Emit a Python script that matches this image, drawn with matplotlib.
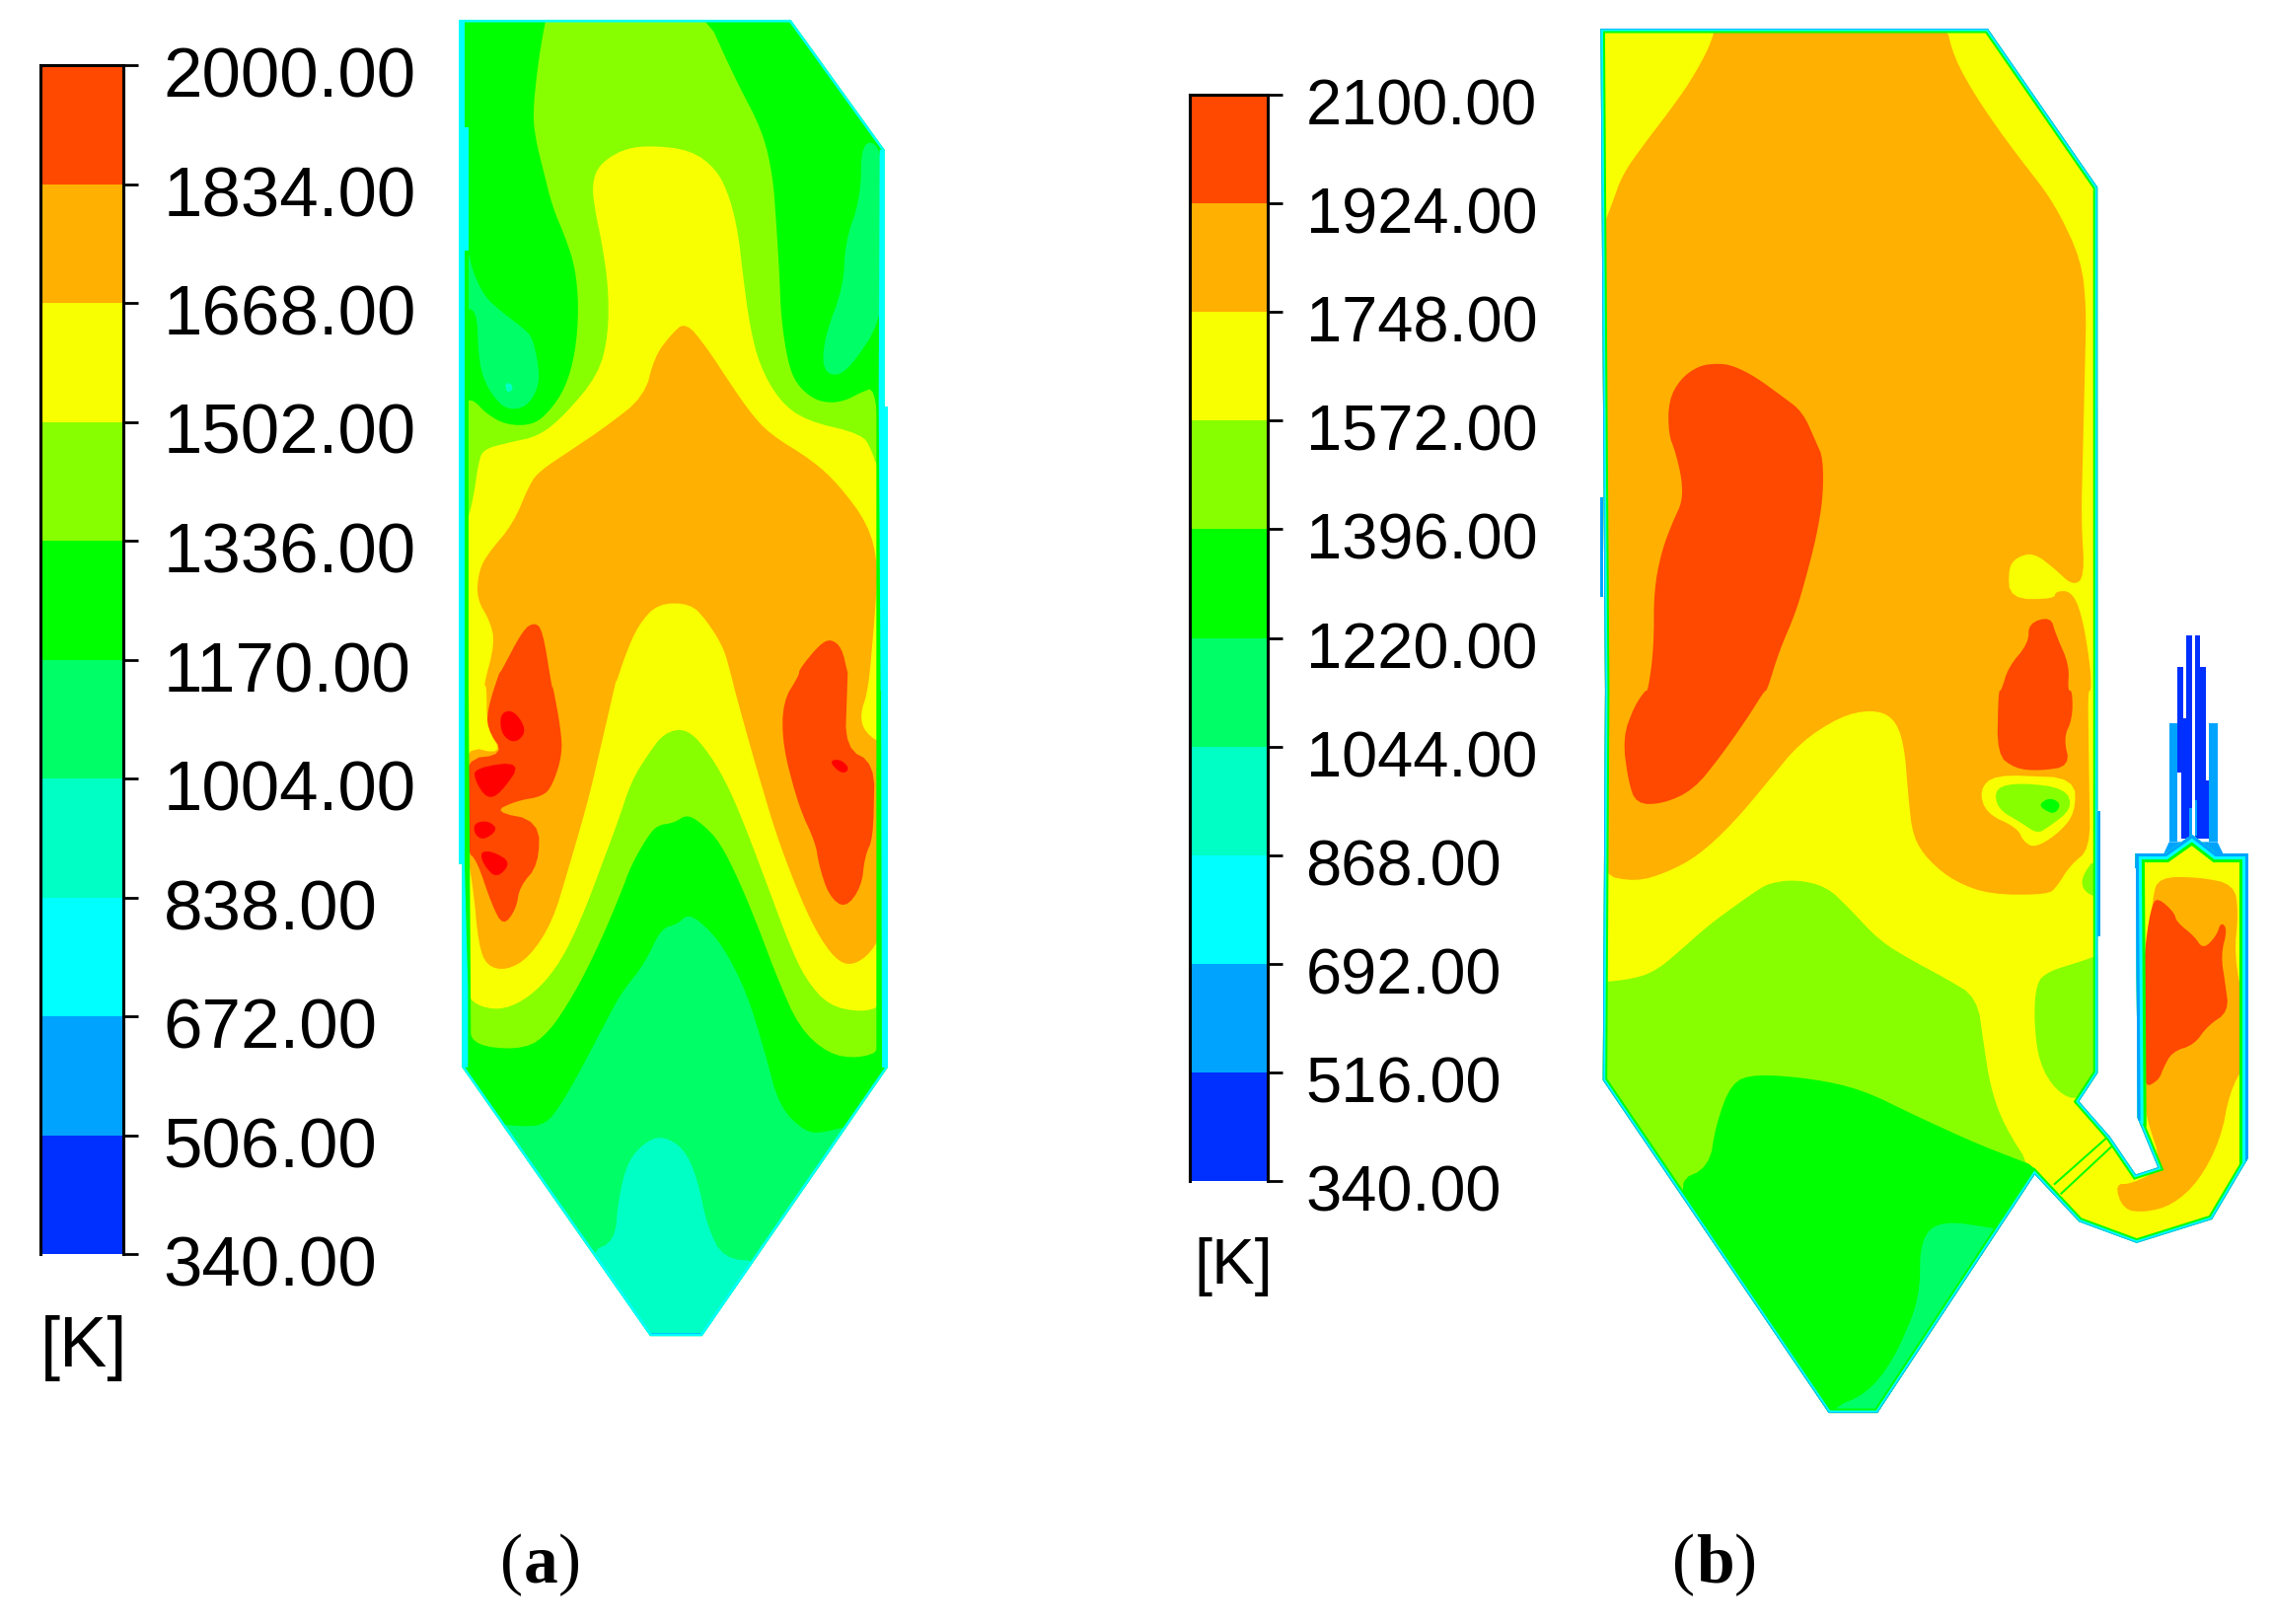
import math

import matplotlib
matplotlib.use("Agg")
import matplotlib.pyplot as plt
from matplotlib.transforms import ScaledTranslation

WIDTH, HEIGHT = 2304, 1646

LEVELS_A = [340, 506, 672, 838, 1004, 1170, 1336, 1502, 1668, 1834, 2000]
LEVELS_B = [340, 516, 692, 868, 1044, 1220, 1396, 1572, 1748, 1924, 2100]
LABELS_A = ["340.00", "506.00", "672.00", "838.00", "1004.00", "1170.00",
            "1336.00", "1502.00", "1668.00", "1834.00", "2000.00"]
LABELS_B = ["340.00", "516.00", "692.00", "868.00", "1044.00", "1220.00",
            "1396.00", "1572.00", "1748.00", "1924.00", "2100.00"]

BLUE = "#0030ff"
SKY = "#00a4ff"
CYAN = "#00ffff"
TEAL = "#00ffc4"
SPRING = "#00ff66"
GREEN = "#00ff00"
LIME = "#88ff00"
YELLOW = "#f8ff00"
ORANGE = "#ffb000"
RED_ORANGE = "#ff4800"
RED = "#ff0000"
BAND_COLORS = [BLUE, SKY, CYAN, TEAL, SPRING, GREEN, LIME, YELLOW, ORANGE, RED_ORANGE]


# outlines below were traced on enlarged crops, so each list is in crop units
def crop(points, x0, y0, sx, sy):
    return [(x0 + u / sx, y0 + v / sy) for u, v in points]


def a_up(points):
    return crop(points, 440, 0, 3, 2.24)


def a_lo(points):
    return crop(points, 440, 680, 3, 2.24)


def b_up(points):
    return crop(points, 1600, 0, 2.904, 2.24)


def b_lo(points):
    return crop(points, 1600, 700, 2.227, 2.09)


def tube(points):
    return crop(points, 2140, 620, 3, 3)


def box(u0, u1, v0, v1):
    return [(u0, v0), (u1, v0), (u1, v1), (u0, v1)]


# panel (a)
A_OUTLINE = a_up([(75, 45), (1085, 45), (1370, 340), (1370, 923), (1380, 923)]) + a_lo(
    [(1380, 900), (815, 1510), (657, 1510), (85, 900), (85, 438), (75, 438)])
A_WALL_GREEN = [
    a_up([(93, 45), (105, 45), (105, 1568)]) + a_lo([(112, 830), (93, 830)]),
    a_up([(1345, 740), (1362, 820), (1362, 1568)]) + a_lo([(1362, 880), (1345, 880)]),
]
A_WALL_CYAN = [
    a_up([(75, 45), (93, 45), (93, 290), (105, 290), (105, 570), (93, 570), (93, 1568), (75, 1568)]),
    a_lo([(75, 0), (93, 0), (93, 438), (103, 720), (103, 900), (85, 900), (85, 438), (75, 438)]),
    a_up([(1355, 340), (1370, 340), (1370, 923), (1380, 923), (1380, 1568), (1358, 1568), (1352, 923)]),
    a_lo([(1358, 0), (1380, 0), (1380, 900), (1362, 900)]),
]
A_SPRING = [
    a_up([(1300, 320), (1360, 330), (1360, 730), (1260, 840), (1210, 855), (1180, 830), (1190, 760),
          (1245, 650), (1250, 550), (1297, 450)]),
    a_up([(80, 570), (105, 570), (115, 610), (150, 670), (200, 705), (280, 750), (300, 770), (318, 830),
          (318, 880), (280, 925), (220, 930), (180, 900), (150, 860), (135, 810), (130, 700), (80, 705)]),
    a_lo([(150, 1025), (270, 1035), (340, 1030), (390, 980), (450, 900), (520, 800), (570, 730), (640, 665),
          (690, 585), (740, 575), (775, 550), (840, 590), (890, 640), (950, 730), (1000, 850), (1050, 990),
          (1130, 1048), (1190, 1048), (1320, 1020), (860, 1570), (620, 1570)]),
]
A_TEAL = [
    a_up([(215, 870), (235, 870), (240, 885), (222, 892)]),
    a_lo([(470, 1320), (550, 1295), (560, 1200), (590, 1110), (650, 1065), (700, 1057), (760, 1085), (800, 1150),
          (830, 1260), (880, 1335), (1000, 1340), (860, 1570), (620, 1570)]),
]
A_SKY = [a_lo([(657, 1503), (815, 1503), (815, 1510), (657, 1510)])]
A_LIME = [
    a_up([(345, 30), (825, 30), (910, 170), (1000, 300), (1030, 400), (1040, 500), (1050, 620), (1055, 720),
          (1075, 820), (1100, 870), (1150, 905), (1200, 915), (1250, 910), (1300, 890), (1340, 880), (1365, 1100)])
    + a_lo([(1365, 860), (1290, 880), (1200, 870), (1110, 810), (1040, 690), (990, 590), (930, 480), (870, 390),
            (820, 350), (770, 325), (730, 345), (680, 350), (650, 375), (600, 440), (570, 500), (520, 590),
            (470, 670), (420, 740), (350, 820), (280, 858), (150, 855), (100, 825)])
    + a_up([(95, 910), (120, 908), (160, 940), (220, 965), (300, 965), (350, 935), (400, 880), (430, 800),
            (440, 700), (430, 610), (400, 540), (360, 470), (330, 380), (310, 320), (300, 260), (315, 150),
            (335, 60)]),
]
A_YELLOW = [
    a_up([(480, 420), (500, 375), (570, 340), (650, 330), (780, 340), (860, 385), (900, 450), (925, 530),
          (940, 630), (960, 740), (990, 830), (1050, 910), (1130, 955), (1300, 985), (1330, 1020), (1365, 1100)])
    + a_lo([(1365, 760), (1300, 775), (1200, 760), (1130, 700), (1080, 620), (1020, 500), (960, 380), (900, 270),
            (840, 190), (770, 130), (700, 140), (650, 190), (600, 250), (560, 340), (510, 440), (460, 540),
            (400, 640), (340, 705), (270, 750), (200, 770), (130, 760), (95, 730)])
    + a_up([(95, 1200), (120, 1130), (135, 1050), (150, 1020), (225, 1005), (320, 990), (400, 940), (500, 850),
            (530, 760), (530, 650), (510, 550), (490, 480)]),
]
A_ORANGE = [
    a_up([(765, 730), (830, 790), (900, 870), (960, 935), (1020, 985), (1150, 1045), (1230, 1100), (1320, 1190),
          (1350, 1280), (1340, 1400), (1320, 1568)])
    + a_lo([(1295, 100), (1310, 140), (1370, 170), (1370, 580), (1330, 640), (1270, 670), (1220, 655), (1160, 590),
            (1100, 490), (1040, 370), (980, 220), (920, 60), (900, 0)])
    + a_up([(880, 1470), (830, 1410), (780, 1370), (680, 1370), (620, 1420), (580, 1490), (550, 1560)])
    + a_lo([(560, 0), (520, 130), (470, 290), (420, 420), (360, 570), (290, 650), (220, 680), (160, 670),
            (135, 620), (120, 500), (100, 410), (90, 170), (210, 190), (160, 130), (160, 30)])
    + a_up([(150, 1560), (185, 1460), (170, 1410), (130, 1360), (135, 1300), (160, 1260), (240, 1190), (290, 1100),
            (320, 1070), (410, 1025), (520, 970), (640, 900), (670, 810), (720, 760)]),
]
A_RED_ORANGE = [
    a_up([(305, 1413), (330, 1430), (360, 1568)])
    + a_lo([(360, 30), (385, 130), (390, 190), (360, 260), (330, 285), (250, 295), (180, 320), (320, 340),
            (318, 440), (260, 490), (250, 540), (210, 580), (175, 530), (130, 430), (100, 410), (90, 200),
            (215, 190), (160, 130), (165, 80), (200, 0)])
    + a_up([(200, 1530), (270, 1430)]),
    a_up([(1205, 1450), (1240, 1470), (1258, 1530)])
    + a_lo([(1258, 0), (1250, 175), (1340, 210), (1335, 380), (1310, 420), (1300, 490), (1250, 540), (1200, 510),
            (1170, 440), (1160, 390), (1110, 310), (1060, 170), (1060, 70), (1110, 10)])
    + a_up([(1110, 1520), (1170, 1465)]),
]
A_RED = [
    a_lo([(200, 100), (230, 88), (260, 105), (280, 140), (245, 165), (205, 145)]),
    a_lo([(122, 220), (270, 205), (200, 280), (160, 290), (125, 250)]),
    a_lo([(122, 345), (165, 340), (195, 360), (150, 385), (122, 370)]),
    a_lo([(140, 410), (180, 410), (235, 435), (190, 472), (150, 440)]),
    a_lo([(1200, 205), (1235, 200), (1265, 222), (1240, 235)]),
]

# panel (b)
B_OUTLINE = b_up([(65, 65), (1205, 65), (1528, 425)]) + b_lo(
    [(1172, 0), (1172, 810), (1130, 870), (1200, 945), (1258, 1025), (1308, 1010), (1262, 905), (1258, 345),
     (1325, 345), (1385, 305), (1440, 345), (1512, 345), (1512, 990), (1430, 1120), (1260, 1170), (1130, 1125),
     (1030, 1025), (675, 1530), (565, 1530), (55, 825), (60, 0)])
B_CHAMBER_WALL = b_lo([(1262, 905), (1258, 345), (1325, 345), (1385, 305), (1440, 345), (1512, 345), (1512, 990)])
B_WALL_SKY = [
    b_up([(63, 1130), (73, 1130), (73, 1355), (63, 1355)]),
    b_lo([(1172, 255), (1179, 255), (1179, 520), (1172, 520)]),
]
B_LIME = [
    b_lo([(30, 620), (130, 610), (180, 590), (230, 550), (290, 500), (340, 465), (400, 425), (430, 408), (490, 400),
          (560, 415), (610, 460), (680, 530), (750, 570), (830, 610), (900, 650), (915, 750), (930, 840), (960, 920),
          (1028, 1020), (985, 1100), (720, 1580), (520, 1580), (20, 825)]),
    b_lo([(1033, 620), (1060, 595), (1130, 575), (1190, 555), (1190, 810), (1130, 870), (1080, 850), (1040, 790),
          (1028, 700)]),
    b_lo([(1135, 395), (1170, 350), (1175, 440), (1140, 425)]),
]
B_LIME_POCKET = b_lo([(940, 205), (1000, 195), (1100, 207), (1115, 250), (1060, 290), (1035, 303), (1000, 280),
                      (945, 250)])
B_GREEN = [
    b_lo([(220, 1040), (295, 1010), (310, 920), (345, 830), (400, 812), (530, 822), (640, 845), (760, 900), (900, 960),
          (1060, 1018), (720, 1580), (520, 1580)]),
]
B_SPRING = [
    b_lo([(772, 1160), (820, 1122), (980, 1145), (720, 1580), (565, 1580), (570, 1520), (650, 1490), (710, 1420),
          (770, 1290)]),
]
B_ORANGE = [
    b_up([(405, 50), (1080, 50), (1105, 130), (1170, 220), (1260, 320), (1400, 460), (1480, 590), (1495, 700),
          (1480, 1180), (1490, 1310), (1455, 1330), (1400, 1290), (1340, 1255), (1290, 1265), (1265, 1290),
          (1270, 1360), (1400, 1360), (1405, 1342), (1450, 1342), (1480, 1390), (1505, 1500), (1510, 1568)])
    + b_lo([(1150, 0), (1155, 335), (1110, 370), (1080, 415), (1060, 432), (930, 432), (850, 405), (790, 360),
            (755, 310), (745, 230), (735, 110), (710, 55), (660, 40), (590, 55), (500, 110), (430, 190), (350, 280),
            (270, 350), (200, 385), (130, 405), (50, 390), (50, 0)])
    + b_up([(70, 520), (100, 460), (130, 395), (200, 320), (260, 260), (330, 185), (390, 100)]),
    b_lo([(1295, 440), (1310, 395), (1400, 395), (1480, 410), (1490, 470), (1480, 560), (1505, 680), (1505, 790),
          (1470, 850), (1450, 950), (1400, 1040), (1340, 1090), (1280, 1105), (1230, 1100), (1210, 1045), (1250, 1045),
          (1320, 1010), (1280, 900), (1275, 840)]),
]
B_YELLOW = [
    b_lo([(905, 210), (940, 178), (1120, 185), (1122, 260), (1080, 305), (1030, 333), (1005, 320), (990, 290),
          (920, 260)]),
]
B_RED_ORANGE = [
    b_up([(410, 825), (455, 830), (520, 855), (600, 900), (660, 935), (700, 1005), (720, 1040), (720, 1130), (700, 1220),
          (670, 1310), (640, 1390), (590, 1480), (555, 1568)])
    + b_lo([(420, 0), (380, 60), (320, 140), (260, 210), (190, 240), (130, 240), (112, 190), (100, 100), (125, 35),
            (150, 0)])
    + b_up([(205, 1568), (222, 1470), (222, 1340), (245, 1250), (280, 1180), (305, 1140), (305, 1090), (285, 1025),
            (265, 985), (265, 910), (300, 860), (355, 830)]),
    b_up([(1390, 1400), (1405, 1440), (1445, 1510), (1440, 1568)])
    + b_lo([(1115, 0), (1115, 60), (1095, 100), (1110, 160), (1040, 170), (985, 165), (945, 135), (948, 0)])
    + b_up([(1245, 1568), (1265, 1515), (1325, 1460), (1325, 1415)]),
    b_lo([(1310, 440), (1345, 470), (1350, 490), (1390, 520), (1410, 548), (1440, 520), (1450, 490), (1465, 505),
          (1450, 560), (1460, 620), (1468, 680), (1420, 710), (1390, 750), (1340, 765), (1320, 800), (1310, 825),
          (1277, 842), (1280, 770), (1272, 650), (1280, 530), (1295, 450)]),
]
B_GREEN_SPOT = b_lo([(1040, 240), (1065, 226), (1090, 240), (1075, 262), (1050, 252)])
B_DUCT_LINES = [
    b_lo([(1075, 1045), (1195, 945)]),
    b_lo([(1090, 1065), (1210, 960)]),
]
TUBES_BLUE = [
    tube(box(228, 245, 73, 690)),
    tube(box(254, 271, 73, 690)),
    tube(box(202, 219, 168, 490)),
    tube(box(212, 245, 323, 690)),
    tube(box(254, 288, 168, 690)),
    tube(box(254, 297, 513, 690)),
]
TUBES_SKY = [
    tube(box(176, 202, 340, 700)),
    tube(box(297, 323, 340, 700)),
    tube(box(237, 245, 598, 680)),
    tube(box(254, 262, 573, 680)),
    tube([(72, 735), (160, 735), (176, 700), (323, 700), (340, 735), (416, 735), (416, 780), (72, 780)]),
]

plt.rcParams["font.family"] = ["Liberation Sans", "DejaVu Sans"]

fig = plt.figure(figsize=(WIDTH / 100, HEIGHT / 100), dpi=100)
ax = fig.add_axes([0, 0, 1, 1])
ax.set_xlim(0, WIDTH)
ax.set_ylim(HEIGHT, 0)
ax.axis("off")


def round_corners(points, passes=2, max_cut=14):
    # corner cutting by a fixed reach, so long straight edges stay straight
    for _ in range(passes):
        rounded = []
        for i, (x0, y0) in enumerate(points):
            x1, y1 = points[(i + 1) % len(points)]
            length = math.hypot(x1 - x0, y1 - y0)
            t = min(0.25, max_cut / length) if length else 0
            rounded.append((x0 + (x1 - x0) * t, y0 + (y1 - y0) * t))
            rounded.append((x1 - (x1 - x0) * t, y1 - (y1 - y0) * t))
        points = rounded
        max_cut /= 2
    return points


def fill_regions(regions, color, clip=None, rounded=True):
    for region in regions:
        xs, ys = zip(*(round_corners(region) if rounded else region))
        patch = ax.fill(xs, ys, color=color, lw=0)[0]
        if clip is not None:
            patch.set_clip_path(clip)


def stroke(points, color, width_px, clip):
    xs, ys = zip(*points)
    line = ax.plot(xs, ys, color=color, lw=width_px * 0.72, solid_joinstyle="miter")[0]
    line.set_clip_path(clip)


def draw_colorbar(x0, x1, y0, y1, levels, labels, fontsize, pad_px):
    cax = fig.add_axes([x0 / WIDTH, 1 - y1 / HEIGHT, (x1 - x0) / WIDTH, (y1 - y0) / HEIGHT])
    for lo, hi, color in zip(levels[:-1], levels[1:], BAND_COLORS):
        cax.bar(0, hi - lo, bottom=lo, width=1, color=color, lw=0)
    cax.set_xlim(-0.5, 0.5)
    cax.set_ylim(levels[0], levels[-1])
    cax.set_xticks([])
    cax.yaxis.tick_right()
    cax.set_yticks(levels, labels)
    cax.tick_params(axis="y", length=10.5, width=2, pad=pad_px * 0.72, labelsize=fontsize, color="black")
    for spine in ("left", "right", "top"):
        cax.spines[spine].set_linewidth(2.2)
    cax.spines["bottom"].set_visible(False)
    shift = ScaledTranslation(0, -7 / 100, fig.dpi_scale_trans)
    for label in cax.get_yticklabels():
        label.set_transform(label.get_transform() + shift)


# panel (a) layers, coolest first
a_clip = ax.fill(*zip(*A_OUTLINE), color=GREEN, lw=0)[0]
fill_regions(A_SPRING, SPRING, a_clip)
fill_regions(A_TEAL, TEAL, a_clip)
fill_regions(A_SKY, SKY, a_clip, rounded=False)
fill_regions(A_LIME, LIME, a_clip)
fill_regions(A_YELLOW, YELLOW, a_clip)
fill_regions(A_ORANGE, ORANGE, a_clip)
fill_regions(A_RED_ORANGE, RED_ORANGE, a_clip)
fill_regions(A_RED, RED, a_clip)
fill_regions(A_WALL_GREEN, GREEN, a_clip, rounded=False)
fill_regions(A_WALL_CYAN, CYAN, a_clip, rounded=False)
stroke(A_OUTLINE + A_OUTLINE[:1], CYAN, 5, a_clip)

# panel (b) layers
fill_regions(TUBES_BLUE, BLUE, rounded=False)
fill_regions(TUBES_SKY, SKY, rounded=False)
b_clip = ax.fill(*zip(*B_OUTLINE), color=YELLOW, lw=0)[0]
fill_regions(B_LIME, LIME, b_clip)
fill_regions(B_GREEN, GREEN, b_clip)
fill_regions(B_SPRING, SPRING, b_clip)
fill_regions(B_ORANGE, ORANGE, b_clip)
fill_regions(B_RED_ORANGE, RED_ORANGE, b_clip)
fill_regions(B_YELLOW, YELLOW, b_clip)
fill_regions([B_LIME_POCKET], LIME, b_clip)
fill_regions([B_GREEN_SPOT], GREEN, b_clip)
for duct_line in B_DUCT_LINES:
    stroke(duct_line, GREEN, 2, b_clip)
stroke(B_OUTLINE + B_OUTLINE[:1], GREEN, 9, b_clip)
stroke(B_CHAMBER_WALL, GREEN, 18, b_clip)
stroke(B_OUTLINE + B_OUTLINE[:1], CYAN, 5, b_clip)
stroke(B_CHAMBER_WALL, CYAN, 12, b_clip)
stroke(B_CHAMBER_WALL, SKY, 6, b_clip)
stroke(B_OUTLINE + B_OUTLINE[:1], SKY, 1.5, b_clip)
fill_regions(B_WALL_SKY, SKY, rounded=False)

draw_colorbar(41, 125, 66, 1271, LEVELS_A, LABELS_A, 51, 26)
draw_colorbar(1206, 1285, 96, 1197, LEVELS_B, LABELS_B, 46.8, 24)

ax.text(85, 1366, "[K]", fontsize=52, ha="center", va="center")
ax.text(1250, 1284, "[K]", fontsize=47, ha="center", va="center")

for x, letter in ((507, "a"), (1695, "b")):
    ax.text(x, 1579, "(", fontsize=50, family="Liberation Serif", ha="left", va="center_baseline")
    ax.text(x + 24, 1579, letter, fontsize=50, family="Liberation Serif", weight="bold",
            ha="left", va="center_baseline")
    ax.text(x + 24 + (35 if letter == "a" else 39), 1579, ")", fontsize=50, family="Liberation Serif",
            ha="left", va="center_baseline")

fig.savefig("out.png", dpi=100, facecolor="white")
plt.close(fig)
